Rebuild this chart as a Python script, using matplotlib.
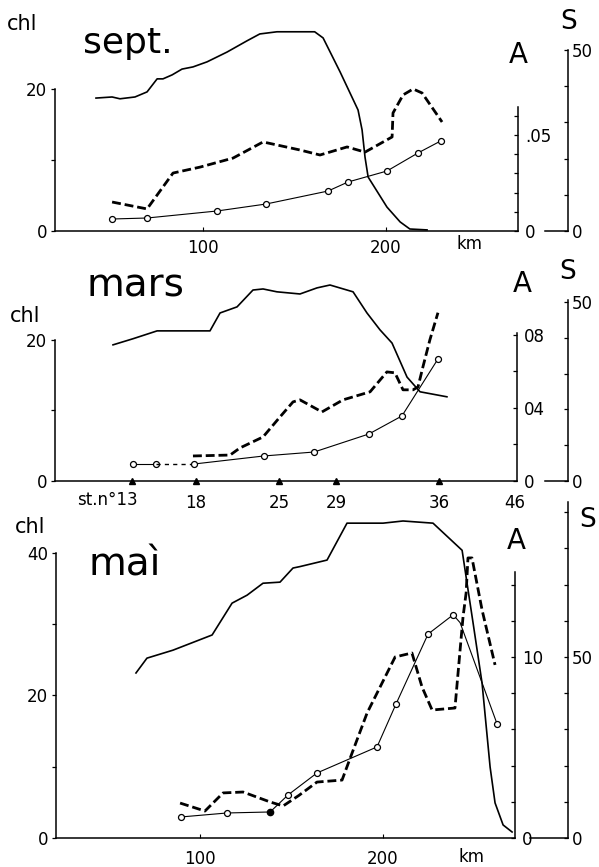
import numpy as np
import matplotlib.pyplot as plt
from matplotlib.ticker import FixedLocator

plt.rcParams['font.family'] = ['DejaVu Sans']
plt.rcParams['font.size'] = 12

# ---- sept. ----  (S solid, A dashed, chl circles ; x in km)
sep_s_km = [41.5, 50.3, 54.6, 62.8, 69.4, 74.9, 78.1, 83.1, 88.5, 94.5, 102.2, 113.1, 124, 131,
            140.4, 153, 161, 165.6, 174.9, 184.7, 186.9, 188.5, 190.2, 200.5, 207.7, 213, 222.4]
sep_s = [36.7, 37.0, 36.5, 37.0, 38.4, 42.0, 42.0, 43.1, 44.7, 45.3, 46.7, 49.4, 52.5, 54.4,
         55.0, 55.0, 55.0, 53.3, 43.9, 33.4, 27.9, 20.4, 14.9, 6.6, 2.5, 0.55, 0.3]
sep_a_km = [50.3, 69.4, 83.6, 98.4, 116.4, 132.8, 153, 163.9, 178.7, 188.5, 203.3, 203.8,
            209.3, 214.8, 219.7, 230.6]
sep_a = [0.0151, 0.0115, 0.0302, 0.0333, 0.038, 0.0464, 0.0422, 0.0396, 0.0438, 0.0411, 0.049,
         0.0615, 0.0709, 0.074, 0.0719, 0.0568]
sep_c_km = [50.3, 69.4, 107.7, 134.4, 168.3, 179.2, 200.5, 217.5, 230]
sep_c = [1.69, 1.83, 2.82, 3.8, 5.63, 6.9, 8.45, 11.0, 12.7]

# ---- mars ----
mar_s_km = [50.8, 61.7, 74.9, 103.8, 109.3, 118.6, 127.3, 132.8, 140.4, 153, 162.3, 169.4, 182,
            189.6, 196.7, 203.3, 211.5, 218.6, 233.3]
mar_s = [38.0, 39.7, 41.9, 41.9, 46.9, 48.6, 53.3, 53.6, 52.8, 52.2, 53.9, 54.7, 52.8, 46.9,
         42.2, 38.5, 29.0, 24.9, 23.5]
mar_a_km = [94.5, 114.8, 120.2, 132.8, 142.1, 149.2, 153, 165, 176.5, 191.3, 200.5, 204.9,
            209.3, 214.8, 217.5, 220.2, 224, 228.4]
mar_a = [0.0137, 0.0142, 0.0181, 0.0241, 0.0351, 0.0433, 0.0444, 0.0378, 0.0444, 0.0488,
         0.0597, 0.0592, 0.0499, 0.0499, 0.0515, 0.0625, 0.0773, 0.0921]
mar_c_km = [61.7, 74.3, 95.1, 133.3, 160.7, 190.7, 208.7, 228.4]
mar_c = [2.41, 2.41, 2.41, 3.55, 4.11, 6.67, 9.22, 17.3]
stations = ['13', '18', '25', '29', '36', '46']
station_km = [61.2, 96.2, 141.5, 172.7, 229, 270.5]

# ---- mai ----
mai_s_km = [65.0, 71.0, 85.2, 106.6, 117.5, 125.7, 134.4, 143.7, 150.8, 154.6, 169.4, 180.3,
            200, 210.9, 227.3, 243.2, 245.9, 249.2, 254.1, 258.5, 261.2, 265.6, 270.5]
mai_s = [45.6, 49.7, 51.9, 56.1, 64.9, 67.1, 70.4, 70.7, 74.6, 75.0, 76.8, 87.0, 87.0, 87.6,
         87.0, 79.5, 70.4, 59.4, 42.8, 19.6, 9.7, 3.6, 1.66]
mai_a_km = [89.1, 102.7, 112.6, 123.5, 138.3, 145.4, 154, 163.9, 177.6, 183.1, 191.3, 206.6,
            215.8, 221.3, 226.8, 239.3, 242.1, 243.7, 245.4, 246.4, 248.6, 254.1, 261.2]
mai_a = [0.0193, 0.0149, 0.0249, 0.0254, 0.0199, 0.0177, 0.0235, 0.0309, 0.032, 0.047, 0.0691,
         0.1, 0.1022, 0.0834, 0.0707, 0.0718, 0.1039, 0.1221, 0.1354, 0.1547, 0.1547, 0.126, 0.0956]
mai_c_km = [89.6, 114.8, 138.3, 148.1, 163.9, 196.7, 207.1, 224.6, 238.3, 242.1, 262.3]
mai_c = [2.95, 3.51, 3.65, 6.04, 9.12, 12.77, 18.8, 28.6, 31.3, 30.2, 16.0]
mai_c_open = [0, 1, 3, 4, 5, 6, 7, 8, 10]
mai_c_filled = [2]

W, H = 599, 867
fig = plt.figure(figsize=(W / 100, H / 100), dpi=100)
LW = 1.1


def ftext(x, y, s, **kw):
    fig.text(x / W, 1 - y / H, s, **kw)


def make_panel(box, xlim, tops, bounds, s_pos, zero_from):
    l, r, b, t = box
    ax = fig.add_axes([l / W, 1 - b / H, (r - l) / W, (b - t) / H])
    ax_a = ax.twinx()
    ax_s = ax.twinx()
    ax.set_xlim(*xlim)
    for a, top in zip((ax, ax_a, ax_s), tops):
        a.set_ylim(0, top)
        a.patch.set_visible(False)
    ax.spines[['top', 'right']].set_visible(False)
    ax.spines['left'].set_bounds(0, bounds[0])
    for a in (ax_a, ax_s):
        a.spines[['top', 'left', 'bottom']].set_visible(False)
    ax_a.spines['right'].set_bounds(0, bounds[1])
    ax_s.spines['right'].set_bounds(0, bounds[2])
    ax_s.spines['right'].set_position(('axes', s_pos))
    for a in (ax, ax_a, ax_s):
        for sp in a.spines.values():
            sp.set_linewidth(LW)
    ax_s.plot([zero_from, s_pos], [0, 0], color='k', lw=LW,
              transform=ax_s.get_yaxis_transform(), clip_on=False)
    ax.tick_params(axis='y', which='both', direction='out', length=3, pad=2.5, width=0.9)
    ax_a.tick_params(axis='y', which='both', direction='in', length=3, pad=5, width=0.9)
    ax_s.tick_params(axis='y', which='both', direction='in', length=3, pad=3, width=0.9)
    ax_s.yaxis.set_minor_locator(FixedLocator(np.arange(10, bounds[2], 10)))
    ax_s.set_yticks([0, 50], ['0', '50'])
    return ax, ax_a, ax_s


def draw_lines(ax, ax_a, ax_s, s_km, s, a_km, a):
    ax_s.plot(s_km, s, color='k', lw=1.2)
    ax_a.plot(a_km, a, color='k', lw=2.0, dashes=(3.2, 1.4))


circ = dict(color='k', lw=0.8, marker='o', ms=4.3, mfc='white', mec='k', mew=0.9)

# ---------------- sept. ----------------
ax, ax_a, ax_s = make_panel((55, 518, 231, 22), (19.1, 272.1), (29.44, 0.1089, 57.7),
                            (20, 0.0646, 50), 1.108, 1.058)
draw_lines(ax, ax_a, ax_s, sep_s_km, sep_s, sep_a_km, sep_a)
ax.plot(sep_c_km, sep_c, **circ)
ax.set_yticks([0, 20])
ax.yaxis.set_minor_locator(FixedLocator([10]))
ax.set_xticks([100, 200])
ax.tick_params(axis='x', direction='in', length=3, pad=6)
ax_a.set_yticks([0, 0.05], ['0', '.05'])
ax_a.yaxis.set_minor_locator(FixedLocator(np.arange(0.01, 0.065, 0.01)))
ftext(7, 30, 'chl', fontsize=15)
ftext(83, 53, 'sept.', fontsize=26, va='baseline')
ftext(518, 55, 'A', fontsize=20, ha='center', va='center')
ftext(569, 22, 'S', fontsize=19, ha='center', va='center')
ftext(470, 244, 'km', fontsize=12, ha='center', va='center')

# ---------------- mars ----------------
ax, ax_a, ax_s = make_panel((55, 517, 481, 280), (19.1, 271.6), (28.5, 0.110, 56.1),
                            (20, 0.081, 50.5), 1.110, 1.061)
draw_lines(ax, ax_a, ax_s, mar_s_km, mar_s, mar_a_km, mar_a)
ax.plot(mar_c_km[:2], mar_c[:2], **circ)
ax.plot(mar_c_km[1:3], mar_c[1:3], color='k', lw=1.0, dashes=(3, 3))
ax.plot(mar_c_km[2:], mar_c[2:], **circ)
ax.plot(station_km[:-1], np.zeros(len(station_km) - 1), '^', color='k', ms=4.5, clip_on=False)
ax.set_yticks([0, 20])
ax.yaxis.set_minor_locator(FixedLocator([10]))
ax.set_xticks(station_km[1:], stations[1:])
ax.tick_params(axis='x', direction='in', length=0, pad=9)
ax.annotate('st.n°' + stations[0], xy=(station_km[0], 0), xytext=(6, -19),
            textcoords='offset pixels', ha='right', va='center', fontsize=12)
ax_a.set_yticks([0, 0.04, 0.08], ['0', '04', '08'])
ax_a.yaxis.set_minor_locator(FixedLocator([0.02, 0.06]))
ftext(10, 322, 'chl', fontsize=15)
ftext(87, 297, 'mars', fontsize=28, va='baseline')
ftext(522, 284, 'A', fontsize=20, ha='center', va='center')
ftext(568, 272, 'S', fontsize=19, ha='center', va='center')

# ---------------- mai ----------------
ax, ax_a, ax_s = make_panel((56, 515, 838, 500), (21.3, 272.1), (47.4, 0.1867, 93.4),
                            (40, 0.147, 92.8), 1.115, 1.033)
draw_lines(ax, ax_a, ax_s, mai_s_km, mai_s, mai_a_km, mai_a)
ax.plot(mai_c_km, mai_c, color='k', lw=0.8)
ax.plot(np.take(mai_c_km, mai_c_open), np.take(mai_c, mai_c_open), 'o', ms=4.3,
        mfc='white', mec='k', mew=0.9)
ax.plot(np.take(mai_c_km, mai_c_filled), np.take(mai_c, mai_c_filled), 'o', ms=4.5,
        color='k')
ax.set_yticks([0, 20, 40])
ax.yaxis.set_minor_locator(FixedLocator([10, 30]))
ax.set_xticks([100, 200])
ax.tick_params(axis='x', direction='in', length=3, pad=9)
ax_a.set_yticks([0, 0.10], ['0', '10'])
ax_a.yaxis.set_minor_locator(FixedLocator(np.arange(0.02, 0.15, 0.02)))
ftext(15, 533, 'chl', fontsize=15)
ftext(88, 575, 'maì', fontsize=28, va='baseline')
ftext(516, 541, 'A', fontsize=20, ha='center', va='center')
ftext(588, 520, 'S', fontsize=19, ha='center', va='center')
ftext(472, 857, 'km', fontsize=12, ha='center', va='center')

fig.savefig('out.png', dpi=100)
